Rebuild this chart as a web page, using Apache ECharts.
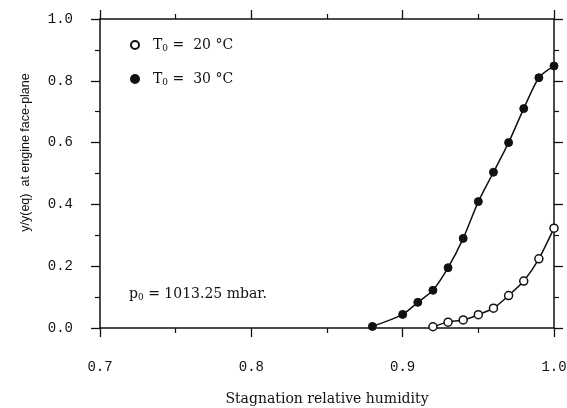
<!DOCTYPE html>
<html><head><meta charset="utf-8">
<script src="https://cdn.jsdelivr.net/npm/echarts@6/dist/echarts.min.js"></script>
<style>html,body{margin:0;padding:0;background:#fff}#c{width:567px;height:408px}</style>
</head><body><div id="c"></div>
<script>
const humidity30 = [0.88, 0.90, 0.91, 0.92, 0.93, 0.94, 0.95, 0.96, 0.97, 0.98, 0.99, 1.00];
const ratio30    = [0.005, 0.044, 0.083, 0.122, 0.195, 0.290, 0.409, 0.504, 0.600, 0.710, 0.810, 0.848];
const humidity20 = [0.92, 0.93, 0.94, 0.95, 0.96, 0.97, 0.98, 0.99, 1.00];
const ratio20    = [0.004, 0.019, 0.026, 0.043, 0.064, 0.105, 0.152, 0.224, 0.323];
const xTicks = [0.7, 0.8, 0.9, 1.0];
const yTicks = [0.0, 0.2, 0.4, 0.6, 0.8, 1.0];
const seriesNames = ['T0 = 20 °C', 'T0 = 30 °C'];

const zip = (a, b) => a.map((v, i) => [v, b[i]]);
const serif = 'DejaVu Serif';
const mono = 'Liberation Mono';
const axisCommon = {
  axisLine: {show: true, onZero: false, lineStyle: {color: '#111', width: 1.5}},
  splitLine: {show: false},
  axisTick: {show: true, inside: false, length: 9, lineStyle: {color: '#111', width: 1.3}},
  minorTick: {show: true, splitNumber: 2, length: 5, lineStyle: {color: '#111', width: 1.2}},
  minorSplitLine: {show: false}
};
const chart = echarts.init(document.getElementById('c'));
chart.setOption({
  animation: false,
  backgroundColor: '#fff',
  grid: {left: 100, right: 13, top: 19, bottom: 80, containLabel: false, outerBoundsMode: 'none'},
  legend: {
    orient: 'vertical', left: 125, top: 33, itemGap: 19,
    itemWidth: 8, itemHeight: 8,
    data: seriesNames.map(n => ({name: n, icon: 'circle'})),
    formatter: n => '{t|T}{s|0}{a|' + n.replace('T0', '').replace('= ', '=  ') + '}',
    textStyle: {
      rich: {
        t: {fontFamily: serif, fontSize: 14, color: '#111', padding: [0, 0, 0, 9]},
        a: {fontFamily: serif, fontSize: 14, color: '#111'},
        s: {fontFamily: serif, fontSize: 9, color: '#111', padding: [7, 0, 0, 0]}
      }
    }
  },
  xAxis: [
    Object.assign({}, axisCommon, {
      type: 'value', min: 0.7, max: 1.0, interval: 0.1, position: 'bottom',
      name: 'Stagnation relative humidity', nameLocation: 'middle', nameGap: 64,
      nameTextStyle: {fontFamily: serif, fontSize: 14, color: '#111'},
      axisLabel: {margin: 32, fontFamily: mono, fontSize: 14, color: '#111',
        formatter: v => xTicks.some(t => Math.abs(t - v) < 1e-6) ? v.toFixed(1) : ''}
    }),
    Object.assign({}, axisCommon, {
      type: 'value', min: 0.7, max: 1.0, interval: 0.1, position: 'top',
      axisLabel: {show: false}
    })
  ],
  yAxis: [
    Object.assign({}, axisCommon, {
      type: 'value', min: 0, max: 1.0, interval: 0.2, position: 'left',
      name: 'y/y(eq)  at engine face-plane', nameLocation: 'middle', nameGap: 68, nameRotate: 90,
      nameTextStyle: {fontFamily: 'Liberation Sans', fontSize: 12.5, color: '#111', padding: [0, 0, 0, 42]},
      axisLabel: {margin: 27, fontFamily: mono, fontSize: 14, color: '#111',
        formatter: v => yTicks.some(t => Math.abs(t - v) < 1e-6) ? v.toFixed(1) : ''}
    }),
    Object.assign({}, axisCommon, {
      type: 'value', min: 0, max: 1.0, interval: 0.2, position: 'right',
      axisLabel: {show: false}
    })
  ],
  graphic: [{
    type: 'text', left: 129, top: 287,
    style: {
      text: '{a|p}{s|0}{a| = 1013.25 mbar.}',
      rich: {
        a: {fontFamily: serif, fontSize: 14, fill: '#111'},
        s: {fontFamily: serif, fontSize: 9, fill: '#111', padding: [7, 0, 0, 0]}
      }
    }
  }],
  series: [
    {
      name: seriesNames[0], type: 'line', data: zip(humidity20, ratio20), smooth: 0.25,
      symbol: 'circle', symbolSize: 8,
      lineStyle: {color: '#111', width: 1.5},
      itemStyle: {color: '#fff', borderColor: '#111', borderWidth: 1.5}
    },
    {
      name: seriesNames[1], type: 'line', data: zip(humidity30, ratio30), smooth: 0.25,
      symbol: 'circle', symbolSize: 8,
      lineStyle: {color: '#111', width: 1.5},
      itemStyle: {color: '#111', borderColor: '#111', borderWidth: 1}
    }
  ]
});
</script></body></html>
